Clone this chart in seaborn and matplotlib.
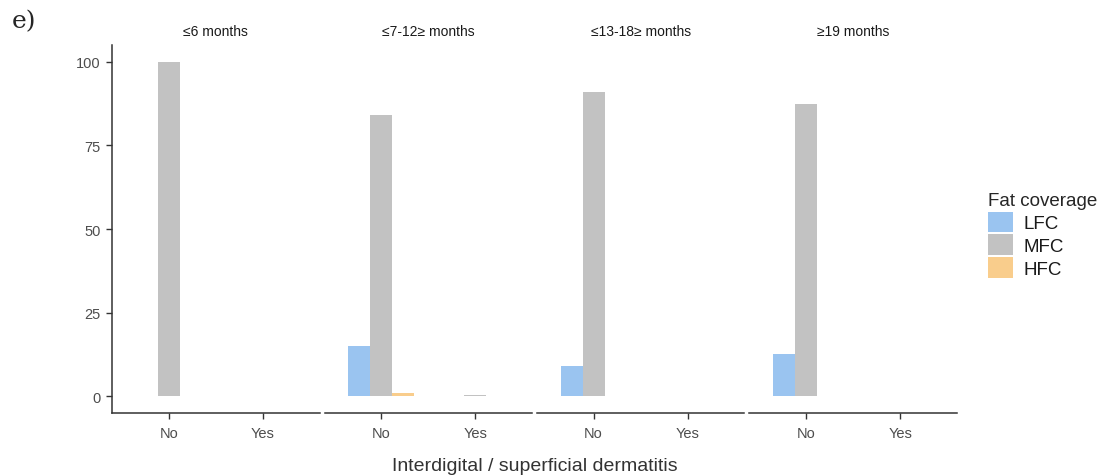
import pandas as pd
import numpy as np
import matplotlib.pyplot as plt
import seaborn as sns
from matplotlib.patches import Patch

# Data (percentages)
age_groups = ["≤6 months", "≤7-12≥ months", "≤13-18≥ months", "≥19 months"]
dermatitis = ["No", "Yes"]
coverage = ["LFC", "MFC", "HFC"]

lfc_no = [0, 15, 9, 12.5]
mfc_no = [100, 84, 91, 87.5]
hfc_no = [0, 1, 0, 0]
lfc_yes = [0, 0, 0, 0]
mfc_yes = [0, 0.5, 0, 0]
hfc_yes = [0, 0, 0, 0]

colors = {"LFC": "#9ac4f0", "MFC": "#c2c2c2", "HFC": "#f9cd8c"}

rows = []
for i, g in enumerate(age_groups):
    for d, vals in [("No", (lfc_no[i], mfc_no[i], hfc_no[i])),
                    ("Yes", (lfc_yes[i], mfc_yes[i], hfc_yes[i]))]:
        for c, v in zip(coverage, vals):
            rows.append({"age": g, "derm": d, "cov": c, "pct": v})
df = pd.DataFrame(rows)

sns.set_style("white")
plt.rcParams["font.family"] = ["Liberation Sans", "DejaVu Sans"]

fig, axes = plt.subplots(1, 4, figsize=(11.05, 4.77), dpi=100, sharey=True)
fig.subplots_adjust(left=0.1014, right=0.866, top=0.9036, bottom=0.132, wspace=0.024)

tick_col = "#4d4d4d"
for i, (ax, g) in enumerate(zip(axes, age_groups)):
    sub = df[df["age"] == g]
    sns.barplot(data=sub, x="derm", y="pct", hue="cov", order=dermatitis,
                hue_order=coverage, palette=colors, width=0.7, ax=ax,
                legend=False, linewidth=0, saturation=1)
    ax.set_xlim(-0.6, 1.6)
    ax.set_ylim(-5, 105)
    ax.set_yticks([0, 25, 50, 75, 100])
    ax.set_xlabel("")
    ax.set_ylabel("")
    ax.set_title(g, fontsize=10, color="#1a1a1a", pad=7)
    for s in ["top", "right"]:
        ax.spines[s].set_visible(False)
    ax.spines["bottom"].set_color("#333333")
    ax.spines["bottom"].set_linewidth(1.1)
    if i == 0:
        ax.spines["left"].set_color("#333333")
        ax.spines["left"].set_linewidth(1.1)
        ax.tick_params(axis="y", length=4, width=1, color="#333333",
                       labelsize=10.5, labelcolor=tick_col, pad=4, left=True)
    else:
        ax.spines["left"].set_visible(False)
        ax.tick_params(axis="y", left=False)
    ax.tick_params(axis="x", length=4, width=1, color="#333333",
                   labelsize=10.5, labelcolor=tick_col, pad=5, bottom=True)

fig.text((0.1014 + 0.866) / 2, 0.023, "Interdigital / superficial dermatitis",
         ha="center", va="center", fontsize=14, color="#333333")
fig.text(0.011, 0.955, "e)", fontsize=18, family="DejaVu Serif", va="center")

handles = [Patch(facecolor=colors[c], edgecolor="none", label=c) for c in coverage]
leg = fig.legend(handles=handles, title="Fat coverage", loc="center left",
                 bbox_to_anchor=(0.879, 0.505), frameon=False, fontsize=13.5,
                 title_fontsize=13.5, handlelength=1.3, handleheight=1.3,
                 handletextpad=0.6, labelspacing=0.12, alignment="left")
for t in leg.get_texts():
    t.set_color("#1a1a1a")

plt.savefig("out.png", dpi=100)
